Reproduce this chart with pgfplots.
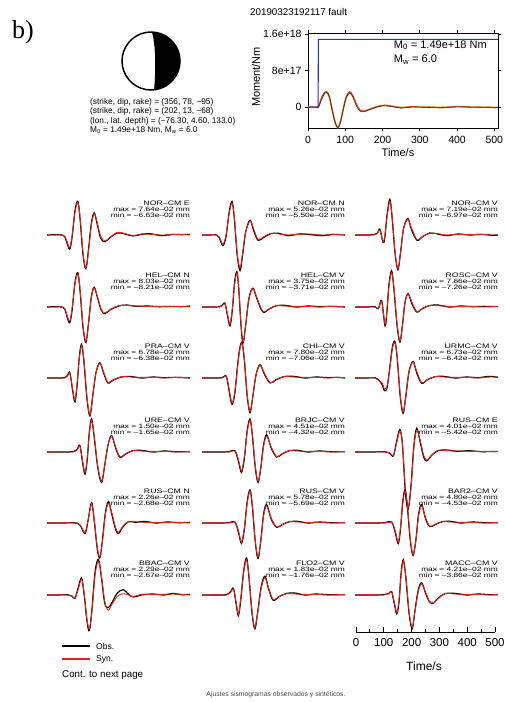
\documentclass[border=0pt]{standalone}
\usepackage{pgfplots}
\pgfplotsset{compat=1.18}
\usepackage{pgfplotstable}
\usepackage{graphicx}
\usepackage{fontspec}
\setmainfont{Liberation Sans}
\newfontfamily\serifb{Liberation Serif}
\definecolor{synred}{RGB}{225,35,25}
\definecolor{momblue}{RGB}{45,45,205}
\definecolor{momyel}{RGB}{230,200,40}
\definecolor{momred}{RGB}{215,60,40}
\pgfplotsset{wave/.style 2 args={at={(#1,#2)}, anchor=south west, scale only axis, width=143pt, height=66pt, hide axis, xmin=0, xmax=500, ymin=-1, ymax=1, clip=false}}
\newcommand{\panel}[6]{%
\begin{axis}[wave={#1pt}{-#2pt}]
\addplot[black, line width=1.2pt, smooth, tension=0.55] table[x=t,y=o] {#3};
\addplot[synred, line width=0.9pt, smooth, tension=0.55] table[x=t,y=s] {#3};
\node[anchor=east, inner sep=0pt, font=\fontsize{6.5}{7}\selectfont] at (axis cs:500,0.97) {\scalebox{1.35}[1]{#4}};
\node[anchor=east, inner sep=0pt, font=\fontsize{6.2}{7}\selectfont] at (axis cs:500,0.77) {\scalebox{1.35}[1]{max = #5 mm}};
\node[anchor=east, inner sep=0pt, font=\fontsize{6.2}{7}\selectfont] at (axis cs:500,0.60) {\scalebox{1.35}[1]{min = #6 mm}};
\end{axis}}
\begin{document}
\pgfplotstableread{
t o s
0 0 0
30 0.01 0.0
50 0 0.01
62 -0.05 -0.04
72 -0.3 -0.25
80 -0.42 -0.38
88 -0.05 0.0
98 0.75 0.7
108 1.02 0.98
116 0.45 0.5
126 -0.6 -0.55
136 -1.02 -1.0
145 -0.45 -0.5
155 0.35 0.3
165 0.67 0.65
175 0.35 0.4
188 -0.1 -0.05
203 -0.2 -0.18
220 -0.08 -0.08
245 0.06 0.08
270 0.04 0.05
300 -0.03 -0.02
330 0.02 0.03
360 0.04 0.02
400 -0.02 0.0
440 0.02 0.01
470 0.01 0.02
500 0.02 0.0
}\tA
\pgfplotstableread{
t o s
0 0 0
30 0 0.01
48 0.01 0
60 -0.08 -0.06
73 -0.32 -0.28
84 -0.05 0
95 0.7 0.65
105 1.02 0.97
113 0.5 0.55
123 -0.6 -0.55
133 -1.08 -1.0
142 -0.6 -0.55
153 0.1 0.1
168 0.45 0.42
180 0.15 0.2
196 -0.16 -0.13
215 -0.08 -0.06
240 0.04 0.05
270 0.05 0.03
300 -0.02 0.0
340 0.03 0.02
380 0.01 0.03
420 -0.02 0.0
460 0.02 0.01
500 0.0 0.01
}\tB
\pgfplotstableread{
t o s
0 0 0
40 0 0.01
65 0.01 0
78 0.05 0.04
87 0.18 0.15
98 -0.22 -0.2
104 -0.1 -0.05
112 0.6 0.55
122 1.08 1.02
130 0.5 0.55
140 -0.55 -0.5
150 -1.05 -1.02
159 -0.55 -0.55
170 0.2 0.2
185 0.5 0.47
198 0.15 0.2
217 -0.16 -0.14
235 -0.06 -0.05
260 0.06 0.05
290 0.03 0.04
320 -0.02 0
360 0.03 0.02
400 0.0 0.01
440 0.02 0.02
480 -0.01 0
500 0 0.01
}\tC
\pgfplotstableread{
t o s
0 0 0
30 0.01 0
50 0 0.01
62 -0.06 -0.05
72 -0.35 -0.3
80 -0.47 -0.43
88 -0.08 -0.03
98 0.75 0.72
108 1.04 1.0
116 0.45 0.5
126 -0.62 -0.58
136 -1.07 -1.04
145 -0.5 -0.52
155 0.3 0.28
165 0.6 0.58
176 0.3 0.33
190 -0.1 -0.08
203 -0.2 -0.18
222 -0.08 -0.07
250 0.03 0.04
280 0.06 0.05
310 0.02 0.03
350 0.03 0.02
390 0.01 0.02
430 0.02 0.01
470 0.01 0.02
500 0.03 0.0
}\tD
\pgfplotstableread{
t o s
0 0 0
40 0 0.01
62 0.01 0
72 0.06 0.05
80 0.12 0.1
90 -0.3 -0.25
98 -0.57 -0.53
106 -0.1 -0.05
114 0.75 0.7
122 1.07 1.03
128 0.6 0.65
136 -0.5 -0.45
143 -1.1 -1.06
152 -0.6 -0.6
164 0.25 0.25
178 0.57 0.55
192 0.25 0.28
213 -0.15 -0.13
235 -0.06 -0.05
260 0.04 0.04
290 0.05 0.03
330 0.0 0.02
370 0.03 0.02
410 0.01 0.0
450 0.02 0.02
500 0.0 0.01
}\tE
\pgfplotstableread{
t o s
0 0 0
45 0 0.01
70 0.01 0
82 -0.05 -0.04
93 0.2 0.18
105 -0.57 -0.52
112 -0.1 -0.05
119 0.7 0.65
128 1.1 1.05
136 0.55 0.6
147 -0.55 -0.5
157 -1.06 -1.02
166 -0.55 -0.55
175 0.15 0.15
186 0.4 0.38
199 0.1 0.15
216 -0.15 -0.14
235 -0.05 -0.06
260 0.04 0.05
290 0.06 0.04
330 0.0 0.02
370 0.03 0.01
410 0.01 0.02
450 0.02 0.0
500 0.01 0.02
}\tF
\pgfplotstableread{
t o s
0 0 0
40 0 0.01
62 0.01 0
72 0.08 0.06
80 0.16 0.14
90 -0.4 -0.35
98 -0.72 -0.68
106 -0.15 -0.1
113 0.65 0.6
121 1.02 0.98
129 0.5 0.55
140 -0.65 -0.6
150 -1.15 -1.12
159 -0.6 -0.62
171 0.15 0.15
185 0.46 0.44
198 0.15 0.18
213 -0.15 -0.13
232 -0.06 -0.05
260 0.03 0.04
290 0.05 0.03
330 0.0 0.02
370 0.03 0.02
410 0.01 0.0
450 0.02 0.02
500 0.0 0.01
}\tG
\pgfplotstableread{
t o s
0 0 0
45 0 0.01
70 0.01 0
85 0.05 0.04
95 -0.4 -0.35
105 -0.8 -0.76
115 -0.45 -0.4
124 0.35 0.3
132 0.9 0.85
140 1.07 1.04
148 0.55 0.6
158 -0.55 -0.5
168 -1.05 -1.02
177 -0.6 -0.6
189 0.1 0.1
203 0.4 0.38
218 0.12 0.15
238 -0.15 -0.14
258 -0.06 -0.05
285 0.04 0.04
320 0.05 0.03
360 0.0 0.02
400 0.03 0.02
440 0.01 0.0
470 0.02 0.02
500 0.0 0.01
}\tH
\pgfplotstableread{
t o s
0 0 0
45 0 0.01
70 0.01 0
85 -0.08 -0.1
95 -0.2 -0.15
103 -0.38 -0.32
112 -0.3 -0.25
122 0.35 0.3
131 0.95 0.9
140 1.1 1.06
148 0.55 0.6
158 -0.55 -0.5
168 -1.07 -1.03
177 -0.6 -0.6
189 0.2 0.2
203 0.5 0.48
216 0.15 0.2
233 -0.16 -0.14
252 -0.06 -0.05
280 0.04 0.04
310 0.05 0.03
350 0.0 0.02
390 0.03 0.02
430 0.01 0.0
470 0.05 0.03
500 0.02 0.03
}\tI
\pgfplotstableread{
t o s
0 0 0
60 0 0.01
90 0.01 0
105 0.08 0.06
115 0.2 0.18
124 -0.3 -0.25
133 -0.67 -0.62
141 -0.2 -0.15
148 0.6 0.55
156 1.0 0.96
165 0.45 0.5
178 -0.5 -0.45
191 -0.92 -0.88
201 -0.45 -0.45
213 0.2 0.2
226 0.5 0.47
240 0.12 0.15
255 -0.16 -0.14
275 -0.06 -0.05
300 0.04 0.04
330 0.05 0.03
370 0.0 0.02
410 0.03 0.02
450 0.01 0.0
500 0.01 0.02
}\tJ
\pgfplotstableread{
t o s
0 0 0
60 0 0.01
95 0.01 0
115 0.04 0.03
128 -0.3 -0.25
138 -0.62 -0.58
148 -0.2 -0.15
158 0.65 0.6
168 1.0 0.97
176 0.5 0.55
186 -0.45 -0.4
196 -0.92 -0.88
206 -0.45 -0.48
215 0.2 0.15
226 0.52 0.48
242 0.12 0.15
261 -0.15 -0.14
280 -0.06 -0.05
305 0.04 0.04
335 0.05 0.03
370 0.0 0.02
410 0.03 0.02
450 0.01 0.0
500 0.01 0.02
}\tK
\pgfplotstableread{
t o s
0 0 0
60 0 0.01
100 0.01 0
120 -0.03 -0.02
134 -0.12 -0.1
145 0.3 0.25
157 0.68 0.64
166 0.2 0.25
176 -1.2 -1.1
186 -1.72 -1.68
196 -1.0 -1.05
206 0.2 0.15
216 0.72 0.66
228 0.3 0.35
240 -0.15 -0.1
251 -0.27 -0.24
268 -0.1 -0.1
290 0.04 0.05
320 0.06 0.04
360 0.02 0.03
400 0.04 0.02
440 0.01 0.02
500 0.02 0.01
}\tL
\pgfplotstableread{
t o s
0 0 0
60 0 0.01
95 0.01 0
115 -0.06 -0.05
133 -0.32 -0.28
144 0.1 0.1
156 0.62 0.58
166 0.0 0.05
176 -0.8 -0.75
185 -1.06 -1.02
194 -0.5 -0.55
204 0.3 0.25
215 0.65 0.6
227 0.25 0.3
240 -0.2 -0.15
250 -0.32 -0.28
265 -0.12 -0.1
285 0.04 0.05
310 0.02 0.04
340 0.05 0.02
380 0.0 0.02
420 0.03 0.01
460 0.01 0.02
500 0.02 0.0
}\tM
\pgfplotstableread{
t o s
0 0 0
60 0 0.01
95 0.01 0
115 0.03 0.02
128 -0.3 -0.25
138 -0.62 -0.58
148 -0.2 -0.15
158 0.65 0.6
168 1.0 0.97
176 0.5 0.55
186 -0.55 -0.5
196 -1.07 -1.03
206 -0.5 -0.52
215 0.25 0.2
226 0.56 0.52
242 0.12 0.15
261 -0.13 -0.12
280 -0.05 -0.05
305 0.04 0.04
335 0.05 0.03
370 0.0 0.02
410 0.03 0.02
450 0.01 0.0
500 0.01 0.02
}\tN
\pgfplotstableread{
t o s
0 0 0
70 0 0.01
105 0.01 0
128 0.03 0.02
141 -0.3 -0.25
151 -0.62 -0.58
159 -0.2 -0.15
167 0.65 0.6
175 1.0 0.97
183 0.5 0.55
193 -0.5 -0.45
203 -0.98 -0.95
213 -0.5 -0.52
222 0.25 0.2
233 0.56 0.52
247 0.12 0.15
262 -0.11 -0.1
280 -0.05 -0.04
305 0.04 0.04
335 0.05 0.03
370 0.0 0.02
410 0.03 0.02
450 0.01 0.0
500 0.01 0.02
}\tO
\pgfplotstableread{
t o s
0 0 0
40 0 0.01
70 0.01 0
88 -0.04 -0.03
98 -0.1 -0.1
110 0.25 0.2
121 0.52 0.48
130 0.0 0.05
140 -0.8 -0.75
148 -1.08 -1.02
157 -0.45 -0.5
168 0.7 0.6
180 1.08 1.02
190 0.55 0.6
202 -0.25 -0.2
214 -0.38 -0.46
226 -0.25 -0.3
245 0.05 -0.05
266 0.16 0.04
285 0.02 0.0
302 -0.06 -0.05
330 0.0 0.02
370 0.03 0.01
410 0.0 0.02
440 0.05 0.03
470 0.01 0.02
500 0.02 0.0
}\tP
\pgfplotstableread{
t o s
0 0 0
50 0 0.01
85 0.01 0
100 0.1 0.08
110 0.2 0.18
119 -0.25 -0.2
127 -0.62 -0.58
135 -0.2 -0.15
146 0.75 0.7
156 1.12 1.06
164 0.55 0.6
175 -0.55 -0.5
185 -1.02 -0.98
195 -0.5 -0.52
207 0.25 0.2
220 0.57 0.52
234 0.15 0.18
249 -0.16 -0.14
268 -0.06 -0.05
295 0.05 0.04
325 0.06 0.03
360 0.0 0.02
400 0.03 0.02
440 0.01 0.0
500 0.01 0.02
}\tQ
\pgfplotstableread{
t o s
0 0 0
60 0 0.01
100 0.01 0
118 0.05 0.04
128 0.1 0.1
137 -0.25 -0.2
146 -0.57 -0.53
154 -0.2 -0.15
161 0.65 0.6
169 1.07 1.03
178 0.5 0.55
189 -0.55 -0.5
200 -1.02 -0.98
210 -0.45 -0.48
221 0.15 0.1
233 0.37 0.34
247 0.05 0.08
260 -0.2 -0.18
274 -0.25 -0.24
290 -0.1 -0.12
315 0.04 0.04
350 0.05 0.03
390 0.0 0.02
430 0.03 0.02
470 0.01 0.0
500 0.01 0.02
}\tR
\pgfplotstableread{
t y r k
0 -0.05 0 0
20 -0.05 0 0
28 0 0.1 0
35 1.5 1.8 1.4
43 2.9 3.1 2.8
50 3.2 3.4 3.2
57 2.2 2.4 2.3
65 -0.8 -0.5 -0.8
73 -3.5 -3.3 -3.5
80 -4.5 -4.5 -4.6
87 -3.2 -3.3 -3.4
95 -0.3 -0.2 -0.5
103 2.2 2.4 2.2
112 3.2 3.4 3.1
120 2.4 2.6 2.3
130 0.5 0.6 0.3
140 -0.7 -0.7 -0.9
150 -0.9 -0.9 -1.0
165 -0.5 -0.5 -0.6
185 0.1 0.1 0.0
205 0.4 0.4 0.3
225 0.2 0.2 0.1
250 -0.1 -0.1 -0.2
280 0.1 0.1 0.0
300 0.1 0.0 0.0
330 0.0 0.0 -0.1
360 -0.1 -0.1 -0.1
400 0.1 0.1 0.05
440 0.0 0.0 0.0
470 0.0 -0.05 0.0
510 -0.1 -0.1 -0.1
}\tMom
\begin{tikzpicture}
\useasboundingbox (0,0) rectangle (505pt,-702pt);
% label b)
\node[anchor=base west, inner sep=0pt, font=\serifb\fontsize{26}{28}\selectfont] at (12pt,-38pt) {b)};
% beachball
\begin{axis}[at={(122pt,-90pt)}, anchor=south west, scale only axis, width=58pt, height=58pt, hide axis, xmin=-1, xmax=1, ymin=-1, ymax=1, clip=false]
\addplot[fill=black, draw=none] coordinates {(0.1045,-0.9945) (0.2588,-0.9659) (0.4226,-0.9063) (0.5736,-0.8192) (0.7071,-0.7071) (0.8192,-0.5736) (0.9063,-0.4226) (0.9659,-0.2588) (0.9962,-0.0872) (0.9962,0.0872) (0.9659,0.2588) (0.9063,0.4226) (0.8192,0.5736) (0.7071,0.7071) (0.5736,0.8192) (0.4226,0.9063) (0.2588,0.9659) (0.0349,0.9994) (0.08,0.8) (0.12,0.5) (0.14,0.2) (0.145,-0.1) (0.14,-0.4) (0.13,-0.7) (0.1045,-0.9945)} -- cycle;
\addplot[draw=black, line width=1.5pt] coordinates {(1,0) (0.9848,0.1736) (0.9397,0.3420) (0.8660,0.5) (0.7660,0.6428) (0.6428,0.7660) (0.5,0.8660) (0.3420,0.9397) (0.1736,0.9848) (0,1) (-0.1736,0.9848) (-0.3420,0.9397) (-0.5,0.8660) (-0.6428,0.7660) (-0.7660,0.6428) (-0.8660,0.5) (-0.9397,0.3420) (-0.9848,0.1736) (-1,0) (-0.9848,-0.1736) (-0.9397,-0.3420) (-0.8660,-0.5) (-0.7660,-0.6428) (-0.6428,-0.7660) (-0.5,-0.8660) (-0.3420,-0.9397) (-0.1736,-0.9848) (0,-1) (0.1736,-0.9848) (0.3420,-0.9397) (0.5,-0.8660) (0.6428,-0.7660) (0.7660,-0.6428) (0.8660,-0.5) (0.9397,-0.3420) (0.9848,-0.1736)} -- cycle;
\end{axis}
\begin{scope}[every node/.style={anchor=west, inner sep=0pt, font=\fontsize{8.3}{9}\selectfont}]
\node at (90pt,-102pt) {(strike, dip, rake) = (356, 78, −95)};
\node at (90pt,-111pt) {(strike, dip, rake) = (202, 13, −68)};
\node at (90pt,-121pt) {(lon., lat. depth) = (−76.30, 4.60, 133.0)};
\node at (90pt,-130pt) {M\textsubscript{0} = 1.49e+18 Nm, M\textsubscript{w} = 6.0};
\end{scope}
% moment plot
\node[anchor=west, inner sep=0pt, font=\fontsize{9.8}{11}\selectfont] at (250pt,-12pt) {20190323192117 fault};
\node[rotate=90, inner sep=0pt, font=\fontsize{11}{12}\selectfont] at (256pt,-77pt) {Moment/Nm};
\node[inner sep=0pt, font=\fontsize{11}{12}\selectfont] at (398pt,-153pt) {Time/s};
\begin{axis}[at={(308pt,-128pt)}, anchor=south west, scale only axis, width=190pt, height=95pt,
  xmin=0, xmax=510, ymin=-4.6, ymax=16.3, xtick={0,100,...,500}, ytick={0,8,16}, yticklabels={0,8e+17,1.6e+18},
  tick align=outside, major tick length=3pt, ticklabel style={font=\fontsize{10.5}{12}\selectfont},
  xticklabel style={yshift=-2pt},
  /pgf/number format/assume math mode=true, axis line style={line width=0.7pt}, tick style={line width=0.7pt, black}]
\addplot[momyel, line width=1.6pt, smooth] table[x=t,y=y] {\tMom};
\addplot[momred, line width=1.1pt, smooth] table[x=t,y=r] {\tMom};
\addplot[black!80, line width=0.6pt, smooth] table[x=t,y=k] {\tMom};
\addplot[momblue, line width=1.1pt] coordinates {(0,0) (27,0) (28,14.9) (510,14.9)};
\node[anchor=west, inner sep=0pt, font=\fontsize{11}{12}\selectfont] at (axis cs:230,13.6) {M\textsubscript{0} = 1.49e+18 Nm};
\node[anchor=west, inner sep=0pt, font=\fontsize{11}{12}\selectfont] at (axis cs:230,10.4) {M\textsubscript{w} = 6.0};
\end{axis}
% waveform panels
\panel{47}{268}{\tA}{NOR–CM E}{7.64e–02}{–6.63e–02}
\panel{202}{268}{\tB}{NOR–CM N}{5.26e–02}{–5.50e–02}
\panel{355}{268}{\tC}{NOR–CM V}{7.19e–02}{–6.97e–02}
\panel{47}{340}{\tD}{HEL–CM N}{8.03e–02}{–8.21e–02}
\panel{202}{340}{\tE}{HEL–CM V}{3.75e–02}{–3.71e–02}
\panel{355}{340}{\tF}{ROSC–CM V}{7.66e–02}{–7.26e–02}
\panel{47}{411}{\tG}{PRA–CM V}{6.78e–02}{–6.38e–02}
\panel{202}{411}{\tH}{CHI–CM V}{7.80e–02}{–7.06e–02}
\panel{355}{411}{\tI}{URMC–CM V}{6.73e–02}{–6.42e–02}
\panel{47}{485}{\tJ}{URE–CM V}{1.50e–02}{–1.65e–02}
\panel{202}{485}{\tK}{BRJC–CM V}{4.51e–02}{–4.32e–02}
\panel{355}{485}{\tL}{RUS–CM E}{4.01e–02}{–5.42e–02}
\panel{47}{556}{\tM}{RUS–CM N}{2.26e–02}{–2.68e–02}
\panel{202}{556}{\tN}{RUS–CM V}{5.78e–02}{–5.69e–02}
\panel{355}{556}{\tO}{BAR2–CM V}{4.80e–02}{–4.53e–02}
\panel{47}{628}{\tP}{BBAC–CM V}{2.29e–02}{–2.67e–02}
\panel{202}{628}{\tQ}{FLO2–CM V}{1.83e–02}{–1.76e–02}
\panel{355}{628}{\tR}{MACC–CM V}{4.21e–02}{–3.86e–02}
% bottom time axis
\begin{axis}[at={(356pt,-632pt)}, anchor=south west, scale only axis, width=139pt, height=20pt,
  xmin=0, xmax=500, ymin=0, ymax=1, axis x line*=bottom, axis y line=none,
  xtick={0,100,...,500}, minor xtick={50,150,...,450}, tick align=inside, major tick length=5pt, minor tick length=3pt,
  ticklabel style={font=\fontsize{11.5}{13}\selectfont}, xticklabel style={yshift=-3pt},
  /pgf/number format/assume math mode=true, axis line style={line width=1pt}, tick style={line width=1pt, black}]
\addplot[draw=none] coordinates {(0,0.5) (500,0.5)};
\end{axis}
\node[inner sep=0pt, font=\fontsize{12}{13}\selectfont] at (424pt,-666pt) {Time/s};
% legend
\begin{axis}[at={(60pt,-680pt)}, anchor=south west, scale only axis, width=100pt, height=40pt, hide axis, xmin=0, xmax=100, ymin=0, ymax=40, clip=false]
\addplot[black, line width=1.1pt] coordinates {(2,34) (30,34)};
\addplot[synred, line width=1.1pt] coordinates {(2,21) (30,21)};
\node[anchor=west, inner sep=0pt, font=\fontsize{8.5}{9}\selectfont] at (axis cs:36,34) {Obs.};
\node[anchor=west, inner sep=0pt, font=\fontsize{8.5}{9}\selectfont] at (axis cs:36,21) {Syn.};
\node[anchor=west, inner sep=0pt, font=\fontsize{9.8}{11}\selectfont] at (axis cs:2,5) {Cont. to next page};
\end{axis}
\node[inner sep=0pt, text=black!70, font=\fontsize{6.8}{8}\selectfont] at (276pt,-695pt) {Ajustes sismogramas observados y sintéticos.};
\end{tikzpicture}
\end{document}
